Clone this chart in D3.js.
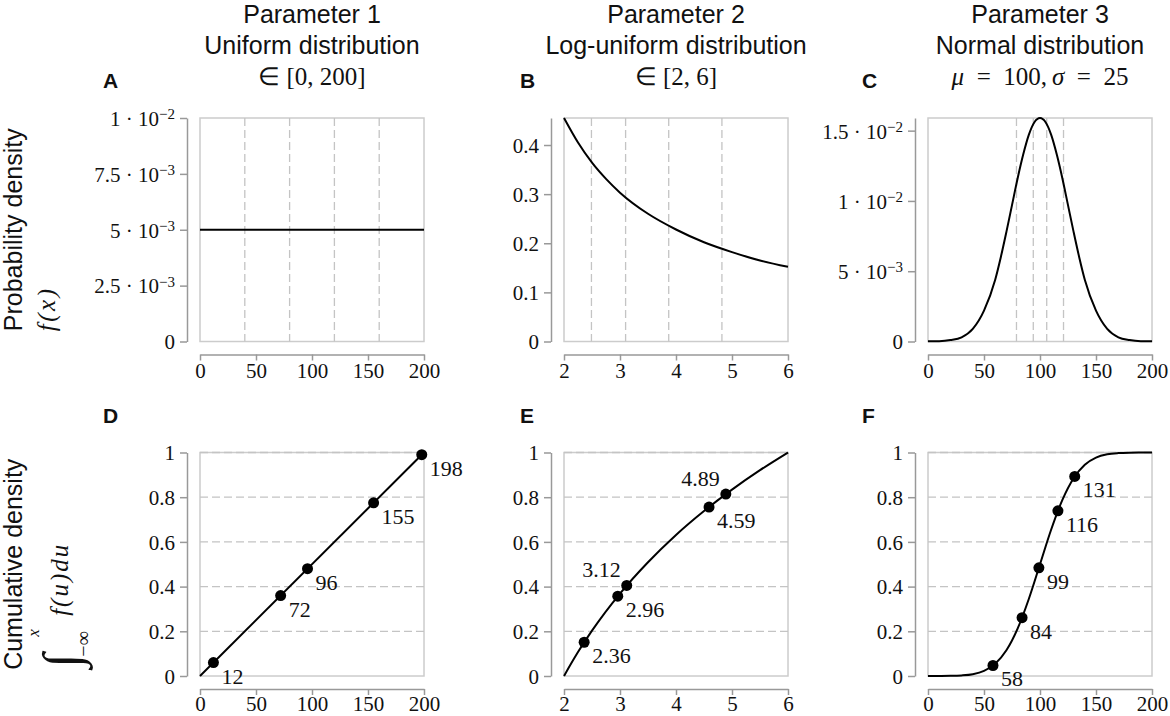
<!DOCTYPE html>
<html>
<head>
<meta charset="utf-8">
<script src="https://cdn.jsdelivr.net/npm/d3@7"></script>
<style>
  body { margin: 0; background: #fff; }
  svg text { fill: #111; }
  .title { font-family: 'Liberation Sans', Arial, sans-serif; font-size: 25px; text-anchor: middle; }
  .math { font-family: 'Liberation Serif', serif; font-size: 25px; }
  .letter { font-family: 'Liberation Sans', Arial, sans-serif; font-size: 21px; font-weight: bold; }
  .row-label { font-family: 'Liberation Sans', Arial, sans-serif; font-size: 25px; }
  .axis text { font-family: 'Liberation Serif', serif; font-size: 21px; }
  .axis path, .axis line { stroke: #999; stroke-width: 1.5; }
  .frame { fill: none; stroke: #ccc; stroke-width: 1.5; }
  .grid { stroke: #c4c4c4; stroke-width: 1.3; stroke-dasharray: 8 4; }
  .curve { fill: none; stroke: #000; stroke-width: 2; }
  .point-label { font-family: 'Liberation Serif', serif; font-size: 22px; }
</style>
</head>
<body>
<svg id="chart" width="1170" height="716"></svg>
<script>
// values
const paramTitles = ['Parameter 1', 'Parameter 2', 'Parameter 3'];
const distTitles = ['Uniform distribution', 'Log-uniform distribution', 'Normal distribution'];
const panelLetters = [['A', 'B', 'C'], ['D', 'E', 'F']];

const xDomains = [[0, 200], [2, 6], [0, 200]];
const xTicks = [[0, 50, 100, 150, 200], [2, 3, 4, 5, 6], [0, 50, 100, 150, 200]];

// top row: probability density
const pdfMax = [0.01, 0.455, 0.0159];
const pdfTicks = [[0, 0.0025, 0.005, 0.0075, 0.01], [0, 0.1, 0.2, 0.3, 0.4], [0, 0.005, 0.01, 0.015]];
const pdfTickMant = [['0', '2.5', '5', '7.5', '1'], ['0', '0.1', '0.2', '0.3', '0.4'], ['0', '5', '1', '1.5']];
const pdfTickExp = [['', '−3', '−3', '−3', '−2'], ['', '', '', '', ''], ['', '−3', '−2', '−2']];

const pdfX1 = [0, 200];
const pdfY1 = [0.005, 0.005];
const pdfX2 = [2, 2.25, 2.5, 2.75, 3, 3.5, 4, 4.5, 5, 5.5, 6];
const pdfY2 = [0.455, 0.405, 0.364, 0.331, 0.303, 0.260, 0.228, 0.202, 0.182, 0.165, 0.152];
const pdfX3 = [0, 10, 20, 30, 40, 50, 60, 65, 70, 75, 80, 85, 90, 95, 100,
  105, 110, 115, 120, 125, 130, 135, 140, 150, 160, 170, 180, 190, 200];
const pdfY3 = [0.00001, 0.00002, 0.0001, 0.0003, 0.0009, 0.0022, 0.0044, 0.0060, 0.0078, 0.0097,
  0.0116, 0.0133, 0.0147, 0.0156, 0.0159, 0.0156, 0.0147, 0.0133, 0.0116, 0.0097, 0.0078,
  0.0060, 0.0044, 0.0022, 0.0009, 0.0003, 0.0001, 0.00002, 0.00001];

const quintiles1 = [40, 80, 120, 160];
const quintiles2 = [2.49, 3.10, 3.87, 4.82];
const quintiles3 = [79, 94, 106, 121];

// bottom row: cumulative density
const cdfTicks = [0, 0.2, 0.4, 0.6, 0.8, 1];
const cdfTickLabels = ['0', '0.2', '0.4', '0.6', '0.8', '1'];
const cdfGrid = [0.2, 0.4, 0.6, 0.8, 1];

const cdfX1 = [0, 200];
const cdfY1 = [0, 1];
const cdfX2 = [2, 2.25, 2.5, 3, 3.5, 4, 4.5, 5, 5.5, 6];
const cdfY2 = [0, 0.107, 0.203, 0.369, 0.509, 0.631, 0.738, 0.834, 0.921, 1];
const cdfX3 = [0, 10, 20, 30, 40, 50, 60, 70, 80, 90, 100, 110, 120, 130, 140, 150, 160, 170, 180, 190, 200];
const cdfY3 = [0, 0.0002, 0.0007, 0.0026, 0.0082, 0.0228, 0.0548, 0.1151, 0.2119, 0.3446, 0.5,
  0.6554, 0.7881, 0.8849, 0.9452, 0.9772, 0.9918, 0.9974, 0.9993, 0.9998, 1];

const sampleX1 = [12, 72, 96, 155, 198];
const sampleY1 = [0.06, 0.36, 0.48, 0.775, 0.99];
const sampleLabels1 = ['12', '72', '96', '155', '198'];
const sampleX2 = [2.36, 2.96, 3.12, 4.59, 4.89];
const sampleY2 = [0.151, 0.357, 0.405, 0.756, 0.814];
const sampleLabels2 = ['2.36', '2.96', '3.12', '4.59', '4.89'];
const sampleX3 = [58, 84, 99, 116, 131];
const sampleY3 = [0.047, 0.261, 0.484, 0.739, 0.893];
const sampleLabels3 = ['58', '84', '99', '116', '131'];

// layout
const W = 224, H = 223.5, GAP = 13;
const lefts = [200, 564, 928];
const tops = [118, 452.5];
const letterX = [103, 520, 862];
const letterY = [88, 423];
const labelSides = [
  ['br', 'br', 'br', 'br', 'br'],
  ['br', 'br', 'al', 'br', 'al'],
  ['br', 'br', 'br', 'br', 'br']
];

const svg = d3.select('#chart');

const drawPanel = (col, row, p) => {
  const left = lefts[col], top = tops[row];
  const x = d3.scaleLinear().domain(xDomains[col]).range([left, left + W]);
  const y = d3.scaleLinear().domain([0, p.yMax]).range([top + H, top]);
  const g = svg.append('g');

  g.append('rect').attr('class', 'frame')
    .attr('x', left).attr('y', top).attr('width', W).attr('height', H);

  if (row === 0) {
    g.selectAll('.grid').data(p.grid).enter().append('line').attr('class', 'grid')
      .attr('x1', d => x(d)).attr('x2', d => x(d))
      .attr('y1', top).attr('y2', top + H);
  } else {
    g.selectAll('.grid').data(p.grid).enter().append('line').attr('class', 'grid')
      .attr('x1', left).attr('x2', left + W)
      .attr('y1', d => y(d)).attr('y2', d => y(d));
  }

  const xAxis = d3.axisBottom(x).tickValues(xTicks[col])
    .tickSize(6).tickPadding(row === 0 ? 3 : 1.5).tickSizeOuter(0).tickFormat(d3.format('d'));
  g.append('g').attr('class', 'axis')
    .attr('transform', `translate(0,${top + H + GAP})`)
    .call(xAxis);

  const yAxis = d3.axisLeft(y).tickValues(p.yTicks)
    .tickSize(7).tickPadding(5).tickSizeOuter(0);
  const ya = g.append('g').attr('class', 'axis')
    .attr('transform', `translate(${left - GAP},0)`)
    .call(yAxis);
  ya.selectAll('.tick text').attr('dy', '0.35em').each(function (d, i) {
    const t = d3.select(this).text('');
    const e = p.yExp[i];
    t.append('tspan').text(e ? `${p.yMant[i]} · 10` : p.yMant[i]);
    if (e) t.append('tspan').attr('dy', '-0.45em').attr('font-size', '15px').text(e);
  });

  const line = d3.line().x(d => x(d[0])).y(d => y(d[1])).curve(d3.curveMonotoneX);
  g.append('path').attr('class', 'curve').attr('d', line(d3.zip(p.cx, p.cy)));

  if (p.px) {
    const pts = d3.zip(p.px, p.py, p.labels, p.sides);
    g.selectAll('.pt').data(pts).enter().append('circle').attr('class', 'pt')
      .attr('cx', d => x(d[0])).attr('cy', d => y(d[1])).attr('r', 5.5).attr('fill', '#000');
    g.selectAll('.point-label').data(pts).enter().append('text').attr('class', 'point-label')
      .attr('x', d => x(d[0]) + (d[3] === 'br' ? 8 : -6))
      .attr('y', d => y(d[1]) + (d[3] === 'br' ? 21 : -8))
      .attr('text-anchor', d => d[3] === 'br' ? 'start' : 'end')
      .text(d => d[2]);
  }

  svg.append('text').attr('class', 'letter')
    .attr('x', letterX[col]).attr('y', letterY[row])
    .text(panelLetters[row][col]);
};

const drawTitles = () => {
  const maths = [
    t => t.text('∈ [0, 200]'),
    t => t.text('∈ [2, 6]'),
    t => {
      t.append('tspan').attr('font-style', 'italic').text('μ');
      t.append('tspan').text('\u2002=\u2002100,\u2009');
      t.append('tspan').attr('font-style', 'italic').text('σ');
      t.append('tspan').text('\u2002=\u200225');
    }
  ];
  lefts.forEach((left, i) => {
    const cx = left + W / 2;
    svg.append('text').attr('class', 'title').attr('x', cx).attr('y', 23).text(paramTitles[i]);
    svg.append('text').attr('class', 'title').attr('x', cx).attr('y', 53.5).text(distTitles[i]);
    const m = svg.append('text').attr('class', 'math').attr('x', cx).attr('y', 85)
      .attr('text-anchor', 'middle');
    maths[i](m);
  });
};

const drawRowLabels = () => {
  // top row
  const c0 = tops[0] + H / 2;
  const g0 = svg.append('g');
  const l0 = g0.append('text').attr('class', 'row-label').text('Probability density');
  const s0 = c0 + l0.node().getComputedTextLength() / 2;
  g0.attr('transform', `translate(22,${s0}) rotate(-90)`);
  g0.append('text').attr('class', 'math').attr('font-style', 'italic')
    .attr('letter-spacing', 2.5).attr('x', 0).attr('y', 33).text('f(x)');

  // bottom row
  const c1 = tops[1] + H / 2;
  const g1 = svg.append('g');
  const l1 = g1.append('text').attr('class', 'row-label').text('Cumulative density');
  const s1 = c1 + l1.node().getComputedTextLength() / 2;
  g1.attr('transform', `translate(22,${s1}) rotate(-90)`);
  g1.append('text').attr('class', 'math').attr('font-style', 'italic')
    .style('font-size', '52px').attr('x', 2).attr('y', 57).text('∫');
  g1.append('text').attr('class', 'math').attr('font-style', 'italic')
    .style('font-size', '17px').attr('x', 33).attr('y', 17).text('x');
  g1.append('text').attr('class', 'math')
    .style('font-size', '20px').attr('x', 13).attr('y', 68).text('−∞');
  g1.append('text').attr('class', 'math').attr('font-style', 'italic')
    .attr('letter-spacing', 2).attr('x', 54).attr('y', 46).text('f(u)du');
};

const main = () => {
  const pdfX = [pdfX1, pdfX2, pdfX3], pdfY = [pdfY1, pdfY2, pdfY3];
  const quints = [quintiles1, quintiles2, quintiles3];
  const cdfX = [cdfX1, cdfX2, cdfX3], cdfY = [cdfY1, cdfY2, cdfY3];
  const sx = [sampleX1, sampleX2, sampleX3], sy = [sampleY1, sampleY2, sampleY3];
  const sl = [sampleLabels1, sampleLabels2, sampleLabels3];

  [0, 1, 2].forEach(i => {
    drawPanel(i, 0, {
      yMax: pdfMax[i], yTicks: pdfTicks[i], yMant: pdfTickMant[i], yExp: pdfTickExp[i],
      grid: quints[i], cx: pdfX[i], cy: pdfY[i]
    });
    drawPanel(i, 1, {
      yMax: 1, yTicks: cdfTicks, yMant: cdfTickLabels, yExp: cdfTicks.map(() => ''),
      grid: cdfGrid, cx: cdfX[i], cy: cdfY[i],
      px: sx[i], py: sy[i], labels: sl[i], sides: labelSides[i]
    });
  });
  drawTitles();
  drawRowLabels();
};
main();
</script>
</body>
</html>
